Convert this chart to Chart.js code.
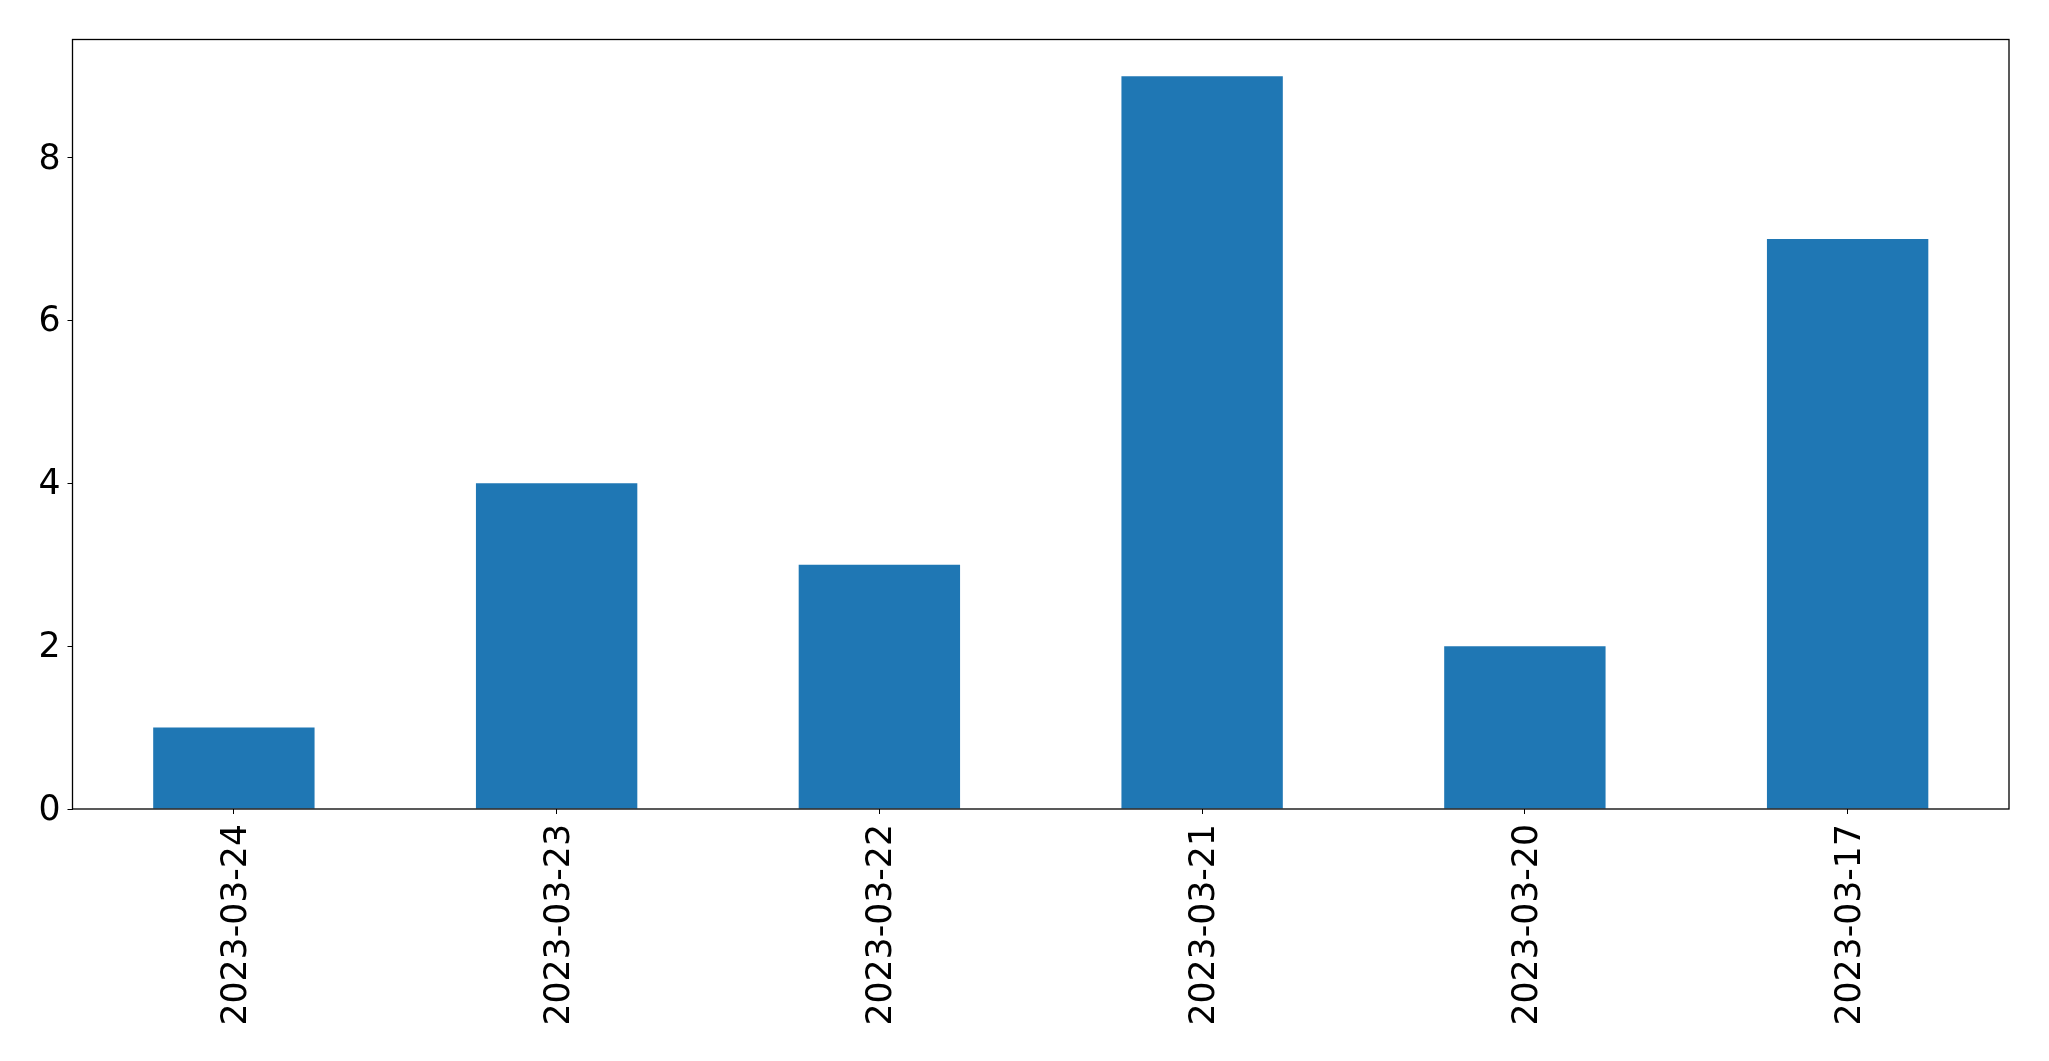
<!DOCTYPE html>
<html lang="en">

<head>
	<meta charset="UTF-8">
	<title>Bar Chart</title>
	<script src="https://cdn.jsdelivr.net/npm/chart.js"></script>
	<style>
		body { margin: 0; background: #fff; }
	</style>
</head>

<body>
	<div style="width: 2049px; height: 1061px;">
		<canvas id="bar-chart" width="2049" height="1061"></canvas>
	</div>

	<script>
		// data
		const dates = ['2023-03-24', '2023-03-23', '2023-03-22', '2023-03-21', '2023-03-20', '2023-03-17'];
		const counts = [1, 4, 3, 9, 2, 7];
		const yTicks = [0, 2, 4, 6, 8];

		// box around the plot area (matplotlib style)
		const frame = {
			id: 'frame',
			afterDraw(chart) {
				const a = chart.chartArea;
				const c = chart.ctx;
				c.save();
				c.strokeStyle = '#000';
				c.lineWidth = 1.3;
				c.strokeRect(a.left, a.top, a.right - a.left, a.bottom - a.top);
				c.restore();
			}
		};

		const chart = new Chart(document.getElementById('bar-chart'), {
			type: 'bar',
			data: {
				labels: dates,
				datasets: [{
					data: counts,
					backgroundColor: '#1f77b4',
					borderWidth: 0,
					barPercentage: 0.5,
					categoryPercentage: 1.0
				}]
			},
			options: {
				responsive: false,
				animation: false,
				layout: { padding: { top: 39.5, right: 40, left: 0, bottom: 0 } },
				plugins: {
					legend: { display: false },
					tooltip: { enabled: false }
				},
				scales: {
					x: {
						offset: true,
						grid: { display: true, drawOnChartArea: false, tickLength: 5, tickColor: '#000', offset: false },
						border: { display: false },
						ticks: {
							color: '#000',
							font: { family: 'DejaVu Sans', size: 34.7 },
							minRotation: 90,
							maxRotation: 90,
							autoSkip: false,
							padding: 10,
							labelOffset: 3
						},
						afterFit(scale) { scale.height = 252; }
					},
					y: {
						min: 0,
						max: 9.45,
						grid: { display: true, drawOnChartArea: false, tickLength: 5, tickColor: '#000' },
						border: { display: false },
						ticks: {
							color: '#000',
							font: { family: 'DejaVu Sans', size: 34.7 },
							padding: 7,
							labelOffset: 2
						},
						afterBuildTicks(scale) { scale.ticks = yTicks.map(v => ({ value: v })); },
						afterFit(scale) { scale.width = 72.5; }
					}
				}
			},
			plugins: [frame]
		});
	</script>
</body>

</html>
